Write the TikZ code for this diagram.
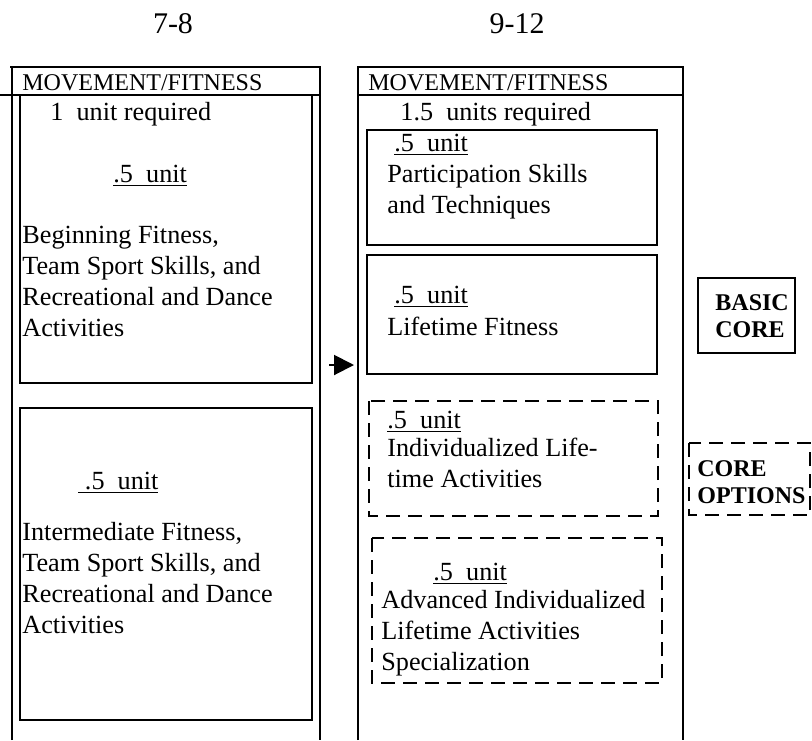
\documentclass[tikz,border=0pt]{standalone}
\usepackage{fontspec}
\setmainfont{Liberation Serif}
\usetikzlibrary{arrows.meta}

\tikzset{
	colline/.style={line width=1pt},
	corebox/.style={line width=.7pt},
	optbox/.style={line width=.7pt, dash pattern=on 7pt off 4pt},
	txt/.style={anchor=base west, inner sep=0pt, align=left, font=\fontsize{13.1}{15.5}\selectfont},
	head/.style={anchor=base west, inner sep=0pt, font=\fontsize{12}{14}\selectfont},
	grade/.style={anchor=base, inner sep=0pt, font=\fontsize{15}{18}\selectfont},
	key/.style={anchor=base west, inner sep=0pt, align=left, font=\fontsize{12}{13.5}\selectfont\bfseries},
}

\begin{document}
\begin{tikzpicture}[x=.5pt, y=-.5pt]
	\useasboundingbox (0,0) rectangle (812,740);

	% grade headings
	\node[grade] (g78) at (173,33) {7-8};
	\node[grade] (g912) at (517,33) {9-12};

	% left column, 7-8 (multi-line texts sit on their last line)
	\draw[colline] (12,740) -- (12,67) -- (320,67) -- (320,740);
	\draw[colline] (10,67) -- (12,67);
	\draw[colline] (0,95) -- (320,95);
	\node[head] (lhead) at (22,90) {MOVEMENT/FITNESS};
	\node[txt] (lreq) at (50,120) {1\ \ unit required};

	\draw[corebox] (20,95) rectangle (312,383);
	\node[txt] (lunit1) at (113,182) {\underline{.5\ \ unit}};
	\node[txt] (lbegin) at (22,336) {Beginning Fitness,\\Team Sport Skills, and\\Recreational and Dance\\Activities};

	\draw[corebox] (20,408) rectangle (312,720);
	\node[txt] (lunit2) at (78,489) {\underline{\ .5\ \ unit}};
	\node[txt] (linter) at (22,633) {Intermediate Fitness,\\Team Sport Skills, and\\Recreational and Dance\\Activities};

	% right column, 9-12
	\draw[colline] (358,740) -- (358,67) -- (683,67) -- (683,740);
	\draw[colline] (358,95) -- (683,95);
	\node[head] (rhead) at (368,90) {MOVEMENT/FITNESS};
	\node[txt] (rreq) at (400,120) {1.5\ \ units required};

	% basic core
	\draw[corebox] (367,130) rectangle (657,245);
	\node[txt] (runit1) at (394,151) {\underline{.5\ \ unit}};
	\node[txt] (rpart) at (387,213) {Participation Skills\\and Techniques};

	\draw[corebox] (367,255) rectangle (657,374);
	\node[txt] (runit2) at (394,303) {\underline{.5\ \ unit}};
	\node[txt] (rlife) at (387,335) {Lifetime Fitness};

	% core options
	\draw[optbox] (369,401) rectangle (658,516);
	\node[txt] (runit3) at (387,428) {\underline{.5\ \ unit}};
	\node[txt] (rindiv) at (387,487) {Individualized Life-\\time Activities};

	\draw[optbox] (372,538) rectangle (662,683);
	\node[txt] (runit4) at (433,580) {\underline{.5\ \ unit}};
	\node[txt] (radv) at (381,670) {Advanced Individualized\\Lifetime Activities\\Specialization};

	% key
	\draw[corebox] (698,278) rectangle (795,353);
	\node[key] (basic) at (715,337) {BASIC\\CORE};
	\draw[optbox] (689,443) rectangle (810,515);
	\node[key] (opts) at (697,503) {CORE\\OPTIONS};

	% arrow between columns
	\coordinate (atail) at (329,365);
	\coordinate (ahead) at (354,365);
	\draw[line width=1pt, -{Triangle[length=10pt, width=10pt]}] (atail) -- (ahead);
\end{tikzpicture}
\end{document}
